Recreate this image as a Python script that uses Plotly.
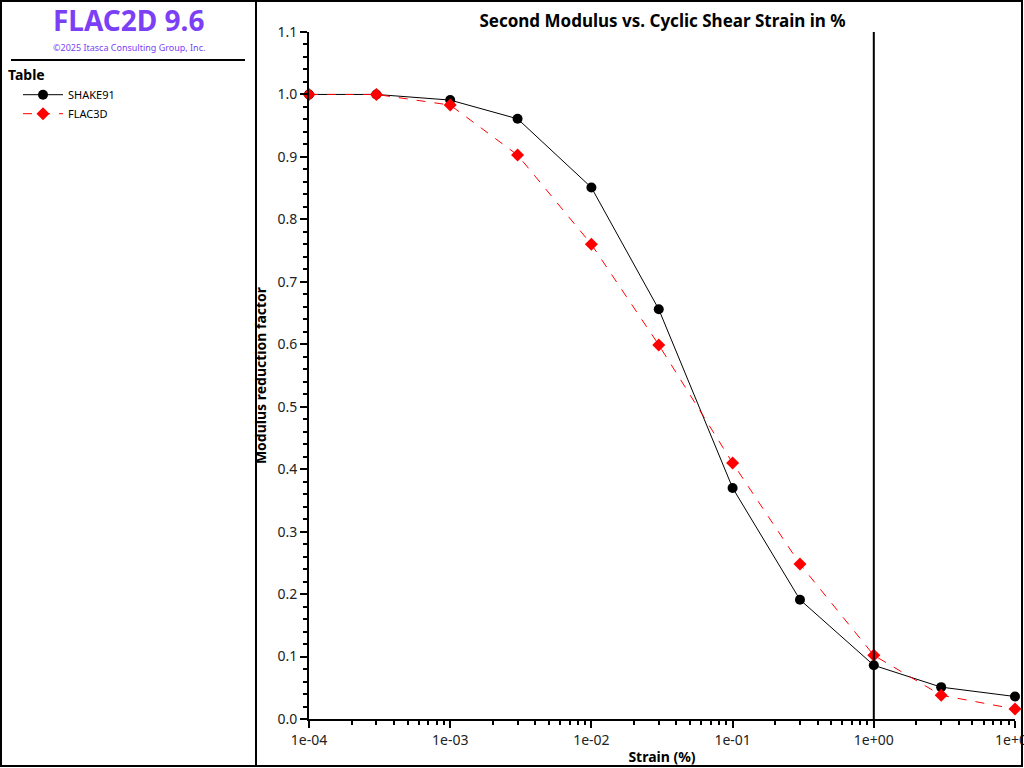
import plotly.graph_objects as go

strain = [1e-4, 3e-4, 1e-3, 3e-3, 1e-2, 3e-2, 1e-1, 3e-1, 1.0, 3.0, 10.0]
shake91 = [1.0, 1.0, 0.991, 0.961, 0.851, 0.656, 0.370, 0.191, 0.086, 0.051, 0.036]
flac3d = [1.0, 1.0, 0.983, 0.903, 0.760, 0.599, 0.410, 0.248, 0.102, 0.038, 0.016]

x_ticks = [1e-4, 1e-3, 1e-2, 1e-1, 1.0, 10.0]
x_labels = ["1e-04", "1e-03", "1e-02", "1e-01", "1e+00", "1e+01"]
x_minor = [m * 10.0 ** e for e in range(-4, 1) for m in range(2, 10)]

# pixel -> paper helpers (plot area 309..1015 x 32..719)
def px(p):
    return (p - 309) / 706.0

def py(p):
    return (719 - p) / 687.0

FONT = "Noto Sans"
PURPLE = "#7B3FF5"

fig = go.Figure()
fig.add_trace(go.Scatter(
    x=strain, y=shake91, name="SHAKE91", mode="lines+markers",
    line=dict(color="black", width=1),
    marker=dict(symbol="circle", size=10, color="black"),
    cliponaxis=False,
))
fig.add_trace(go.Scatter(
    x=strain, y=flac3d, name="FLAC3D", mode="lines+markers",
    line=dict(color="#FF0000", width=1, dash="dash"),
    marker=dict(symbol="diamond", size=10, color="#FF0000"),
    cliponaxis=False,
))

fig.add_vline(x=1.0, line_color="black", line_width=2)

shapes = [
    dict(type="rect", xref="paper", yref="paper", x0=px(1), x1=px(1022), y0=py(1), y1=py(766),
         line=dict(color="black", width=2)),
    dict(type="line", xref="paper", yref="paper", x0=px(256), x1=px(256), y0=py(1), y1=py(766),
         line=dict(color="black", width=2)),
    dict(type="line", xref="paper", yref="paper", x0=px(11), x1=px(245), y0=py(60), y1=py(60),
         line=dict(color="black", width=2)),
]
for s in shapes:
    fig.add_shape(**s)

fig.add_annotation(x=px(129), y=py(20), xref="paper", yref="paper", text="<b>FLAC2D 9.6</b>",
                   xanchor="center", yanchor="middle",
                   showarrow=False, font=dict(family=FONT, size=28, color=PURPLE))
fig.add_annotation(x=px(129), y=py(47), xref="paper", yref="paper", text="©2025 Itasca Consulting Group, Inc.",
                   xanchor="center", yanchor="middle",
                   showarrow=False, font=dict(family=FONT, size=9, color=PURPLE))

fig.update_layout(
    width=1024, height=768,
    margin=dict(l=309, r=9, t=32, b=49, autoexpand=False),
    paper_bgcolor="white", plot_bgcolor="white",
    font=dict(family=FONT, color="black", size=13),
    title=dict(text="<b>Second Modulus vs. Cyclic Shear Strain in %</b>", x=0.647, xanchor="center",
               y=0.973, yanchor="middle", font=dict(size=17, color="black")),
    legend=dict(x=px(6), y=py(62), xanchor="left", yanchor="top", xref="paper", yref="paper",
                title=dict(text="<b>Table</b>", font=dict(size=14)), indentation=12,
                font=dict(size=11), bgcolor="rgba(0,0,0,0)", tracegroupgap=0, itemwidth=40),
    showlegend=True,
)
fig.update_xaxes(
    type="log", range=[-4, 1], tickmode="array", tickvals=x_ticks, ticktext=x_labels,
    ticklabeloverflow="allow",
    showgrid=False, zeroline=False, showline=True, linecolor="black", linewidth=2,
    ticks="outside", ticklen=7, tickwidth=2, tickcolor="black", tickfont=dict(size=14, color="#222"),
    minor=dict(tickmode="array", tickvals=x_minor, ticks="outside", ticklen=4, tickwidth=2, tickcolor="black"),
    title=dict(text="<b>Strain (%)</b>", font=dict(size=14), standoff=4),
)
fig.update_yaxes(
    range=[0, 1.1], dtick=0.1, tickformat=".1f",
    showgrid=False, zeroline=False, showline=True, linecolor="black", linewidth=2,
    ticks="outside", ticklen=7, tickwidth=2, tickcolor="black", tickfont=dict(size=14, color="#222"),
    minor=dict(dtick=0.02, ticks="outside", ticklen=4, tickwidth=2, tickcolor="black"),
    title=dict(text="<b>Modulus reduction factor</b>", font=dict(size=14), standoff=8),
)

fig.write_html("out.html", config={"displayModeBar": False},
               post_script="document.body.style.margin='0';")
